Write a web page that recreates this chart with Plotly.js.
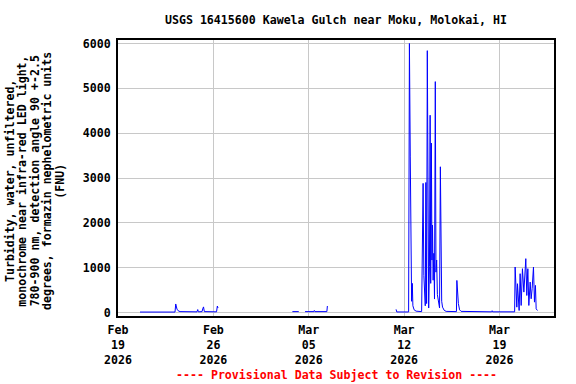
<!DOCTYPE html>
<html>
<head>
<meta charset="utf-8">
<script src="https://cdn.plot.ly/plotly-3.0.1.min.js"></script>
<style>html,body{margin:0;padding:0;background:#fff;}#chart{width:576px;height:384px;}</style>
</head>
<body>
<div id="chart"></div>
<script>
// Observation times (local), null values mark gaps in the record
const times = [
  "2026-02-20 14:45","2026-02-23 04:25","2026-02-23 05:40","2026-02-23 06:45","2026-02-23 07:55","2026-02-23 09:50","2026-02-23 13:15",
  "2026-02-24 19:10","2026-02-24 20:25","2026-02-24 21:35","2026-02-25 04:05","2026-02-25 05:15","2026-02-25 06:40","2026-02-25 08:05",
  "2026-02-26 05:35","2026-02-26 07:00","2026-02-26 08:10","2026-02-26 09:00",
  "2026-03-03 19:10","2026-03-04 06:25","2026-03-04 10:00",
  "2026-03-04 17:30","2026-03-05 09:05","2026-03-05 09:50","2026-03-05 10:50","2026-03-06 07:55","2026-03-06 08:50","2026-03-06 10:00",
  "2026-03-11 09:50","2026-03-11 11:05","2026-03-12 07:55","2026-03-12 09:20","2026-03-12 10:50","2026-03-12 12:10","2026-03-12 13:10",
  "2026-03-12 14:25","2026-03-12 15:25","2026-03-12 17:35","2026-03-12 21:05","2026-03-13 06:50","2026-03-13 08:10","2026-03-13 09:25",
  "2026-03-13 10:45","2026-03-13 12:00","2026-03-13 13:15","2026-03-13 14:20","2026-03-13 15:35","2026-03-13 16:50","2026-03-13 18:05",
  "2026-03-13 19:15","2026-03-13 20:35","2026-03-13 21:50","2026-03-13 22:50","2026-03-14 00:00","2026-03-14 01:00","2026-03-14 02:00",
  "2026-03-14 03:05","2026-03-14 04:20","2026-03-14 05:30","2026-03-14 06:55","2026-03-14 08:05","2026-03-14 09:20","2026-03-14 10:35",
  "2026-03-14 12:20","2026-03-14 14:25","2026-03-14 15:50","2026-03-14 17:05","2026-03-14 18:10","2026-03-14 19:40","2026-03-14 22:30",
  "2026-03-15 02:00","2026-03-15 20:10","2026-03-15 20:55","2026-03-15 22:15","2026-03-15 23:35","2026-03-16 01:40","2026-03-16 04:20",
  "2026-03-18 10:05","2026-03-18 11:00","2026-03-18 11:55","2026-03-20 02:40",
  "2026-03-20 03:33","2026-03-20 06:30","2026-03-20 07:40","2026-03-20 10:35","2026-03-20 12:20","2026-03-20 14:10","2026-03-20 16:25",
  "2026-03-20 18:55","2026-03-20 22:20","2026-03-21 00:05","2026-03-21 01:55","2026-03-21 03:40","2026-03-21 06:00","2026-03-21 07:45",
  "2026-03-21 09:30","2026-03-21 11:50","2026-03-21 13:35","2026-03-21 15:20","2026-03-21 16:35","2026-03-21 18:55"
];
// Turbidity, FNU
const turbidity = [
  10,10,190,120,75,40,20,
  15,65,15,20,80,125,20,
  15,145,100,null,
  20,20,null,
  20,20,45,20,20,145,null,
  70,12,12,6000,3470,650,250,
  650,150,60,30,20,1100,2880,
  830,250,150,2900,200,5840,300,
  100,1020,4400,650,3780,1170,1950,
  720,1320,300,5150,900,1170,400,
  200,100,3250,1730,250,120,50,
  25,20,715,300,200,60,25,
  15,40,15,15,
  1015,119,642,45,866,157,977,
  455,1201,380,977,157,679,306,
  530,1015,231,604,82,45
];
// Axis ticks
const xTickVals = ["2026-02-19","2026-02-26","2026-03-05","2026-03-12","2026-03-19"];
const xTickText = ["Feb<br>19<br>2026","Feb<br>26<br>2026","Mar<br>05<br>2026","Mar<br>12<br>2026","Mar<br>19<br>2026"];
const yTickVals = [0,1000,2000,3000,4000,5000,6000];

const chartTitle = "USGS 16415600 Kawela Gulch near Moku, Molokai, HI";
const yTitleLines = [
  "Turbidity, water, unfiltered,",
  "monochrome near infra-red LED light,",
  "780-900 nm, detection angle 90 +-2.5",
  "degrees, formazin nephelometric units",
  "(FNU)"
];
const footnote = "---- Provisional Data Subject to Revision ----";

const F = {family: "DejaVu Sans Mono, monospace", size: 11.6, color: "#000", weight: "bold"};

const trace = {
  x: times, y: turbidity, type: "scatter", mode: "lines",
  line: {color: "#0000ff", width: 1}, connectgaps: false, hoverinfo: "skip"
};

const plotW = 576 - 118 - 22, plotH = 384 - 40 - 68;
const yTitleX0 = 9.3, yTitleStep = 12.65;
const annotations = yTitleLines.map((t, i) => ({
  text: t, xref: "paper", yref: "paper",
  x: (yTitleX0 + i * yTitleStep - 118) / plotW, y: 0.49,
  xanchor: "center", yanchor: "middle", textangle: -90, showarrow: false, font: F
}));
annotations.push({text: footnote, xref: "paper", yref: "paper", x: 0.5, y: (316 - 375) / plotH,
  xanchor: "center", yanchor: "middle", showarrow: false, font: Object.assign({}, F, {color: "#ff0000"})});

const layout = {
  width: 576, height: 384,
  margin: {l: 118, r: 22, t: 40, b: 68, pad: 0},
  paper_bgcolor: "#fff", plot_bgcolor: "#fff",
  showlegend: false,
  font: F,
  title: {text: chartTitle, font: F, x: 0.5, xref: "paper", y: 1 - 20/384, yanchor: "middle"},
  xaxis: {
    type: "date", range: ["2026-02-19 00:00", "2026-03-23 00:00"],
    tickvals: xTickVals, ticktext: xTickText, tickangle: 0, ticklabelstandoff: 2,
    showgrid: true, gridcolor: "#c8c8c8", gridwidth: 1,
    showline: true, linecolor: "#000", linewidth: 2, mirror: true,
    ticks: "", zeroline: false, tickfont: F
  },
  yaxis: {
    range: [-78, 6078], tickvals: yTickVals, tickformat: "d", ticklabelstandoff: 3,
    showgrid: true, gridcolor: "#c8c8c8", gridwidth: 1,
    showline: true, linecolor: "#000", linewidth: 2, mirror: true,
    ticks: "", zeroline: false, tickfont: F
  },
  annotations: annotations
};

Plotly.newPlot("chart", [trace], layout, {staticPlot: true, displayModeBar: false});
</script>
</body>
</html>
